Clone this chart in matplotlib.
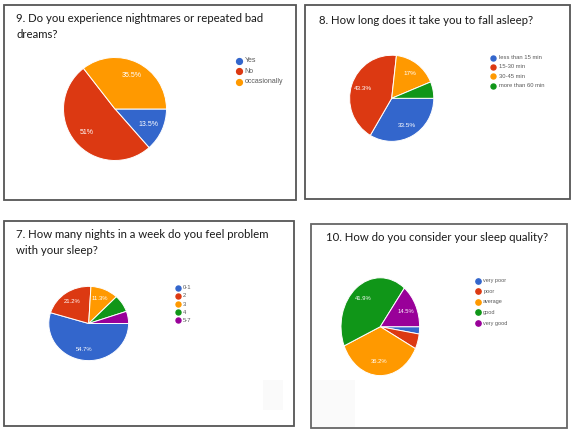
import matplotlib
matplotlib.use("Agg")
import matplotlib.pyplot as plt
from matplotlib.patches import Rectangle
from matplotlib.lines import Line2D

W, H = 571, 429

# ---------------- data ----------------
q9_title = ["9. Do you experience nightmares or repeated bad", "dreams?"]
q9_labels = ["Yes", "No", "occasionally"]
q9_values = [13.5, 51.0, 35.5]

q8_title = ["8. How long does it take you to fall asleep?"]
q8_labels = ["less than 15 min", "15-30 min", "30-45 min", "more than 60 min"]
q8_values = [33.5, 43.3, 17.0, 6.2]

q7_title = ["7. How many nights in a week do you feel problem", "with your sleep?"]
q7_labels = ["0-1", "2", "3", "4", "5-7"]
q7_values = [54.7, 21.2, 11.3, 7.5, 5.3]

q10_title = ["10. How do you consider your sleep quality?"]
q10_labels = ["very poor", "poor", "average", "good", "very good"]
q10_values = [2.4, 5.0, 36.2, 41.9, 14.5]

colors = ["#3366cc", "#dc3912", "#ff9900", "#109618", "#990099"]

fig = plt.figure(figsize=(W / 100, H / 100), dpi=100)
fig.patch.set_facecolor("white")


def fx(x):
    return x / W


def fy(y):
    return 1 - y / H


def box(x0, y0, x1, y1, color="#555555"):
    fig.add_artist(Rectangle((fx(x0), fy(y1)), fx(x1) - fx(x0), fy(y0) - fy(y1),
                             transform=fig.transFigure, fill=False,
                             edgecolor=color, linewidth=1.3))


def faint(x0, y0, x1, y1):
    fig.add_artist(Rectangle((fx(x0), fy(y1)), fx(x1) - fx(x0), fy(y0) - fy(y1),
                             transform=fig.transFigure, facecolor="#fafafa",
                             edgecolor="none", zorder=0))


def fmt(p):
    if p < 10:
        return ""
    s = f"{p:.1f}"
    if s.endswith(".0"):
        s = s[:-2]
    return s + "%"


def pie(values, cx, cy, rx, ry, fs):
    ax = fig.add_axes([fx(cx - rx), fy(cy + ry), 2 * rx / W, 2 * ry / H])
    ax.pie(values, colors=colors[:len(values)], startangle=0, counterclock=False,
           radius=1, autopct=fmt, pctdistance=0.72,
           wedgeprops=dict(edgecolor="white", linewidth=0.7),
           textprops=dict(color="white", fontsize=fs, family="Liberation Sans"))
    ax.set_aspect("auto")
    ax.set_xlim(-1.01, 1.01)
    ax.set_ylim(-1.01, 1.01)
    ax.axis("off")


def legend(labels, x, ys, fs, ms):
    for lab, col, y in zip(labels, colors, ys):
        fig.add_artist(Line2D([fx(x)], [fy(y)], transform=fig.transFigure,
                              marker="o", markersize=ms, color=col, linestyle="none"))
        fig.text(fx(x + 5.5), fy(y), lab, fontsize=fs, color="#5a5a5a",
                 family="Liberation Sans", va="center", ha="left")


def title(lines, x, ys, fs=8.2):
    for t, y in zip(lines, ys):
        fig.text(fx(x), fy(y), t, fontsize=fs, color="#1a1a1a", family="Lato",
                 va="center", ha="left")


# boxes
faint(263, 380, 283, 410)
faint(311, 380, 355, 428)
box(3.5, 5, 296, 200)
box(304.5, 5.5, 570, 199)
box(3.5, 221, 294, 426)
box(311, 224, 567, 428, color="#666666")

# panel 9
title(q9_title, 16.5, [18.3, 35])
pie(q9_values, 115, 109, 52, 52, 5.0)
legend(q9_labels, 239.3, [60.7, 71.2, 81.7], 5.0, 4.2)

# panel 8
title(q8_title, 319.3, [20.7])
pie(q8_values, 391.7, 98.3, 42.5, 43.5, 4.6)
legend(q8_labels, 493.3, [57.7, 67, 76.3, 85.7], 4.2, 3.6)

# panel 7
title(q7_title, 16.5, [234.3, 251])
pie(q7_values, 88.7, 323.5, 40.3, 37.5, 4.2)
legend(q7_labels, 177.7, [287.7, 295.9, 304.1, 312.3, 320.4], 4.2, 3.6)

# panel 10
title(q10_title, 325.7, [237.7])
pie(q10_values, 380.3, 326.7, 39.7, 49.4, 4.2)
legend(q10_labels, 477.7, [280.7, 291.3, 302, 312.4, 323], 4.0, 3.8)

fig.savefig("out.png", dpi=100, facecolor="white")
